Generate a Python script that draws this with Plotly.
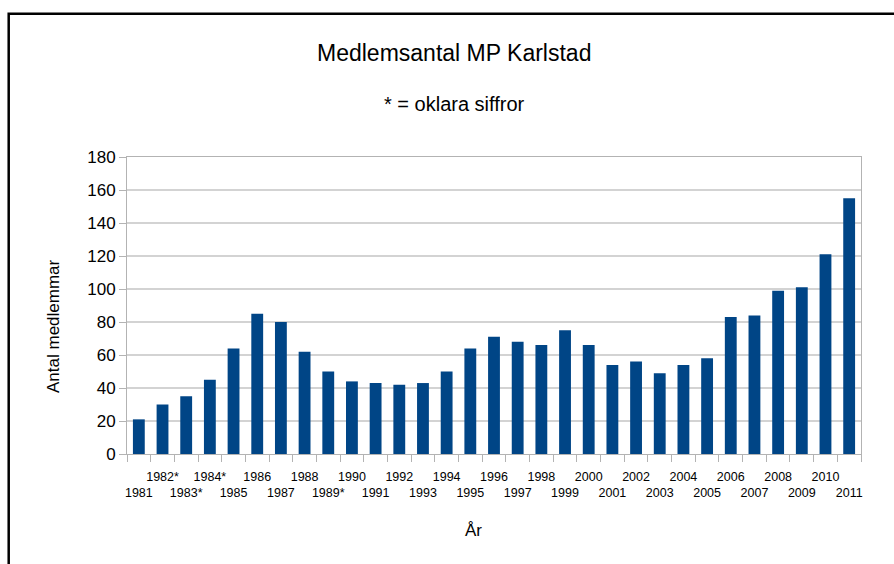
import plotly.graph_objects as go

years = ["1981", "1982*", "1983*", "1984*", "1985", "1986", "1987", "1988", "1989*", "1990",
         "1991", "1992", "1993", "1994", "1995", "1996", "1997", "1998", "1999", "2000",
         "2001", "2002", "2003", "2004", "2005", "2006", "2007", "2008", "2009", "2010", "2011"]
members = [21, 30, 35, 45, 64, 85, 80, 62, 50, 44,
           43, 42, 43, 50, 64, 71, 68, 66, 75, 66,
           54, 56, 49, 54, 58, 83, 84, 99, 101, 121, 155]

title_text = "Medlemsantal MP Karlstad"
subtitle_text = "* = oklara siffror"
y_title = "Antal medlemmar"
x_title = "År"

# staggered tick labels: every second label on a second line
tick_text = [y if i % 2 == 1 else "<br>" + y for i, y in enumerate(years)]

FONT = "Liberation Sans, Arial, sans-serif"
W, H = 894, 564
L, R, T, B = 127, 861, 157, 454

def px(x):
    return (x - L) / (R - L)

def py(y):
    return (B - y) / (B - T)

fig = go.Figure(go.Bar(x=years, y=members, marker_color="#004586", marker_line_width=0, width=0.5))

fig.update_layout(
    width=W, height=H,
    margin=dict(l=L, r=W - R, t=T, b=H - B, pad=0),
    paper_bgcolor="white", plot_bgcolor="white",
    font=dict(family=FONT, color="#000000"),
    showlegend=False,
)
fig.update_xaxes(
    type="category",
    tickmode="array", tickvals=years, ticktext=tick_text,
    tickson="boundaries", ticks="outside", ticklen=7, tickcolor="#b3b3b3", tickwidth=1,
    tickfont=dict(size=12.5, family=FONT, color="#000"),
    tickangle=0, ticklabelstandoff=11,
    showline=True, linecolor="#b3b3b3", linewidth=1, mirror=True,
    showgrid=False, zeroline=False,
)
fig.update_yaxes(
    range=[0, 180], dtick=20, tick0=0,
    ticks="outside", ticklen=7, tickcolor="#b3b3b3", tickwidth=1,
    tickfont=dict(size=17, family=FONT, color="#000"),
    showline=True, linecolor="#b3b3b3", linewidth=1, mirror=True,
    showgrid=True, gridcolor="#d3d3d3", gridwidth=1.5, zeroline=False,
)

fig.add_annotation(text=title_text, x=px(454), y=py(53), xref="paper", yref="paper",
                   showarrow=False, font=dict(size=23, family=FONT, color="#000"),
                   xanchor="center", yanchor="middle")
fig.add_annotation(text=subtitle_text, x=px(454), y=py(104), xref="paper", yref="paper",
                   showarrow=False, font=dict(size=20, family=FONT, color="#000"),
                   xanchor="center", yanchor="middle")
fig.add_annotation(text=y_title, x=px(53), y=py(326), xref="paper", yref="paper",
                   showarrow=False, textangle=-90, font=dict(size=17, family=FONT, color="#000"),
                   xanchor="center", yanchor="middle")
fig.add_annotation(text=x_title, x=px(473), y=py(530), xref="paper", yref="paper",
                   showarrow=False, font=dict(size=17, family=FONT, color="#000"),
                   xanchor="center", yanchor="middle")

# outer frame (runs off the right and bottom edges)
fig.add_shape(type="rect", xref="paper", yref="paper",
              x0=px(8.7), y0=py(620), x1=px(920), y1=py(13.7),
              line=dict(color="#000000", width=2.5), fillcolor="rgba(0,0,0,0)", layer="above")

fig.write_html("out.html",
               config={"displayModeBar": False},
               post_script="document.body.style.margin='0px';document.body.style.overflow='hidden';")
